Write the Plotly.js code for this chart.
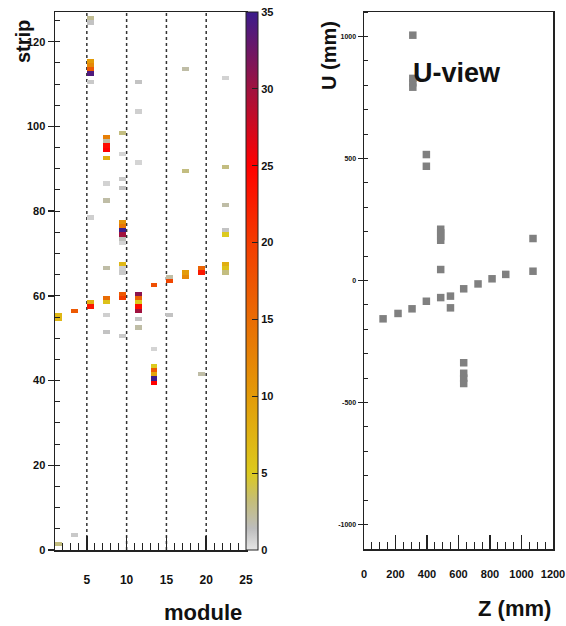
<!DOCTYPE html>
<html><head><meta charset="utf-8">
<script src="https://cdn.plot.ly/plotly-3.0.1.min.js"></script>
<style>html,body{margin:0;padding:0;background:#fff}#chart{width:566px;height:626px}</style>
</head><body><div id="chart"></div>
<script>
// ---- Left panel: hit strips per module (charge) ----
const cellModule = [1,1,1, 3,3, 5,5,5,5,5,5,5,5,5,5,
  7,7,7,7,7,7,7,7,7,7,7,7,
  9,9,9,9,9,9,9,9,9,9,9,9,9,9,9,9,
  11,11,11,11,11,11,11,11,11,11,
  13,13,13,13,13,13,13,
  15,15,15, 17,17,17,17, 19,19,19,
  22,22,22,22,22,22,22,22];
const cellStrip = [1,54,55, 3,56, 125,124,115,114,113,112,110,78,58,57,
  97,96,95,94,92,86,82,66,59,58,55,51,
  98,93,87,85,77,76,75,74,73,72,67,66,65,60,59,50,
  110,103,91,60,59,58,57,56,54,52,
  62,47,43,42,41,40,39,
  64,63,55, 113,89,65,64, 66,65,41,
  111,90,81,75,74,67,66,65];
const cellCharge = [3,7,7, 1,17, 2.5,1.2,10,12,17,34,1,0.8,8,23,
  13,2,24,25,8,0.7,2,2,15,6,0.8,1.2,
  3,0.6,1,1.2,11,14,35,30,1.5,0.6,7,0.8,1,17,20,1,
  1.2,0.8,0.6,31,16,5,24,30,1.2,2,
  18,0.6,5,17,9,35,25,
  2,19,1.2, 2,3,10,12, 16,23,2,
  0.7,3,2,1.2,5,8,6,3];
const moduleDividers = [5,10,15,20];
const moduleTicks = [5,10,15,20,25];
const stripTicks = [0,20,40,60,80,100,120];
const chargeTicks = [0,5,10,15,20,25,30,35];

// ---- Right panel: U-view hits ----
const zPos = [310,310,310,310, 396,396, 487,487,487,487,487, 1073,1073, 900,813,724,633,
  549,549,487,396,305,216,121, 633,633,633,633];
const uPos = [1005,828,810,792, 516,468, 210,195,180,165,45, 172,38, 25,7,-14,-34,
  -64,-112,-70,-85,-116,-135,-157, -337,-380,-400,-422];
const zTicks = [0,200,400,600,800,1000,1200];
const uTicks = [-1000,-500,0,500,1000];

// build histogram grid (bin centres)
const nModuleBins = 24, nStripBins = 127;
const xCenters = Array.from({length:nModuleBins},(_, i)=> i+1.5);
const yCenters = Array.from({length:nStripBins},(_, j)=> j+0.5);
const grid = yCenters.map(()=> xCenters.map(()=> null));
cellModule.forEach((m,k)=>{ grid[cellStrip[k]][m-1] = cellCharge[k]; });

const colorscale = [
  [0.0,'#e6e6e6'],[0.04,'#bdbdbd'],[0.09,'#c4bd7a'],[0.143,'#dcca1e'],
  [0.286,'#e39b08'],[0.43,'#e96c04'],[0.571,'#f33c00'],[0.714,'#ff0000'],
  [0.857,'#a0123f'],[1.0,'#3b1c8c']];

const F = 'Liberation Sans, Arial, sans-serif';
const ink = '#222';
const W = 566, H = 626;
const px = v => v/W, py = v => 1 - v/H;

const traces = [
  {type:'heatmap', x:xCenters, y:yCenters, z:grid, zmin:0, zmax:35,
   colorscale, xgap:1, ygap:0, hoverongaps:false, xaxis:'x', yaxis:'y',
   colorbar:{x:px(246), xanchor:'left', y:py(550), yanchor:'bottom',
     len:(550-12)/H, lenmode:'fraction', thickness:12, thicknessmode:'pixels',
     outlinewidth:1, outlinecolor:ink, tickmode:'array', tickvals:chargeTicks,
     ticks:'inside', ticklen:6, tickcolor:ink, tickwidth:1.2,
     tickfont:{family:F, size:11, weight:'bold', color:'#111'}, xpad:0, ypad:0}},
  {type:'scatter', mode:'markers', x:zPos, y:uPos, xaxis:'x2', yaxis:'y2',
   marker:{symbol:'square', size:7.5, color:'#808080'}, showlegend:false}
];

const axBase = {showline:true, mirror:true, linecolor:ink, linewidth:1.5,
  showgrid:false, zeroline:false, tickcolor:ink};

const ann = (text, x, y, size, angle) => ({text, x:px(x), y:py(y), xref:'paper', yref:'paper',
  xanchor:'center', yanchor:'middle', showarrow:false, textangle:angle||0,
  font:{size, weight:'bold', color:'#111'}});

const layout = {
  width:W, height:H, margin:{l:0,r:0,t:0,b:0},
  paper_bgcolor:'#fff', plot_bgcolor:'#fff', showlegend:false,
  font:{family:F, color:'#111'},
  xaxis:{...axBase, domain:[px(55),px(246)], range:[1,25], tickmode:'array', tickvals:moduleTicks,
    ticks:'inside', ticklen:14, tickwidth:1.5,
    minor:{dtick:1, tick0:0, ticks:'inside', ticklen:7, tickwidth:1, tickcolor:ink},
    tickfont:{size:12, weight:'bold'}, ticklabelstandoff:18},
  yaxis:{...axBase, domain:[py(550),py(12)], range:[0,127], tickmode:'array', tickvals:stripTicks,
    ticks:'outside', ticklen:6, tickwidth:1.5,
    minor:{dtick:5, tick0:0, ticks:'inside', ticklen:5, tickwidth:1, tickcolor:ink},
    tickfont:{size:11, weight:'bold'}},
  xaxis2:{...axBase, anchor:'y2', domain:[px(364),px(553)], range:[0,1200], tickmode:'array', tickvals:zTicks,
    ticks:'inside', ticklen:14, tickwidth:1.5,
    minor:{dtick:50, tick0:0, ticks:'inside', ticklen:7, tickwidth:1, tickcolor:ink},
    tickfont:{size:11, weight:'bold'}, ticklabelstandoff:14},
  yaxis2:{...axBase, anchor:'x2', domain:[py(549),py(12)], range:[-1100,1100], tickmode:'array',
    tickvals:uTicks, ticktext:uTicks.map(String),
    ticks:'outside', ticklen:5, tickwidth:1.2,
    minor:{dtick:100, tick0:0, ticks:'inside', ticklen:4, tickwidth:1, tickcolor:ink},
    tickfont:{size:7, weight:'bold'}},
  shapes: moduleDividers.map(m => ({type:'line', xref:'x', yref:'y domain', x0:m, x1:m, y0:0, y1:1,
    line:{color:'#333', width:1.5, dash:'dot'}, layer:'below'})),
  annotations:[
    ann('strip', 23, 42, 20, -90),
    ann('module', 203, 612, 22),
    ann('U (mm)', 329, 56, 20, -90),
    ann('Z (mm)', 514, 608, 22),
    ann('U-view', 457, 73, 27)
  ]
};

Plotly.newPlot('chart', traces, layout, {displayModeBar:false, staticPlot:true});
</script>
</body></html>
